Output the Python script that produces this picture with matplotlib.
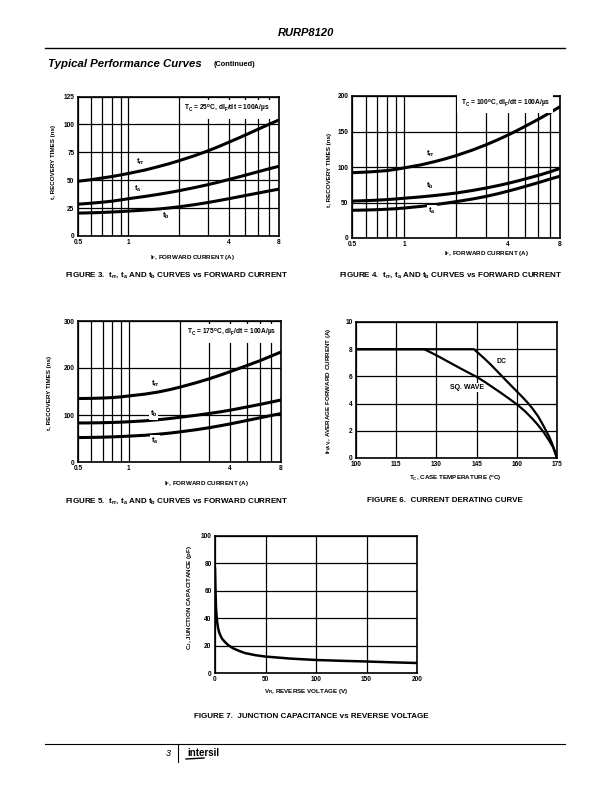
import numpy as np
import matplotlib
matplotlib.use("Agg")
import matplotlib.pyplot as plt
from matplotlib.ticker import FixedLocator, FixedFormatter, NullFormatter

plt.rcParams['font.family'] = ['Liberation Sans', 'DejaVu Sans']
plt.rcParams['font.weight'] = 'bold'
plt.rcParams['mathtext.fontset'] = 'custom'
plt.rcParams['mathtext.rm'] = 'Liberation Sans:bold'
plt.rcParams['mathtext.it'] = 'Liberation Sans:bold'
plt.rcParams['mathtext.bf'] = 'Liberation Sans:bold'
plt.rcParams['mathtext.default'] = 'rm'

W, H = 612, 792

# forward current (A) - common x for figures 3, 4, 5
i_f = [0.5, 0.6, 0.7, 0.8, 0.9, 1, 1.25, 1.5, 1.75, 2, 2.5, 3, 3.5, 4, 4.5, 5, 6, 7, 8]
x_major = [0.5, 1, 4, 8]
x_major_labels = ['0.5', '1', '4', '8']
x_minor = [0.6, 0.7, 0.8, 0.9, 2, 3, 5, 6, 7]

# figure 3, Tc = 25 C
trr_25 = [49, 50.5, 52, 53.3, 54.7, 56, 59, 62, 64.7, 67.3, 72, 76.3, 80.3, 84, 87.3, 90.3, 95.7, 100.2, 104]
ta_25 = [28.5, 29.4, 30.3, 31.2, 32.3, 33.4, 35.4, 37.2, 38.9, 40.5, 43.4, 46, 48.4, 50.6, 52.6, 54.4, 57.6, 60.3, 62.5]
tb_25 = [20.5, 20.8, 21.1, 21.5, 21.9, 22.3, 23.2, 24.1, 25.1, 26.1, 28.1, 30, 31.8, 33.4, 34.9, 36.2, 38.5, 40.4, 42]

# figure 4, Tc = 100 C
trr_100 = [92, 92.8, 93.8, 95, 96.8, 98.7, 103, 107.5, 111.8, 116, 124, 131.5, 138.5, 145, 151.2, 157, 167.3, 176.5, 185]
tb_100 = [52, 52.6, 53.3, 54.1, 55, 56, 57.9, 59.8, 61.6, 63.3, 67, 70.5, 73.8, 77, 80, 83, 88.2, 93.2, 98]
ta_100 = [39, 39.4, 39.9, 40.6, 41.3, 42.2, 44.5, 46.9, 49.1, 51.2, 55, 58.7, 62.4, 66, 69.3, 72.5, 78, 83, 87]

# figure 5, Tc = 175 C
trr_175 = [135, 135.4, 136.1, 137.1, 138.6, 140.5, 144.5, 149, 154, 159, 168.5, 177, 185, 192.3, 199, 205, 215.5, 225.5, 234]
tb_175 = [83, 83.2, 83.6, 84.2, 84.8, 85.6, 87.6, 90, 92.5, 95, 99.3, 103.3, 106.8, 110.3, 113.8, 117, 122.5, 127.5, 132]
ta_175 = [52, 52.3, 52.8, 53.5, 54.2, 55, 56.9, 59.1, 61.5, 64, 68.6, 73, 77.2, 81.1, 84.8, 88.2, 94, 99, 103]

# figure 6, derating
tc_dc = [100, 144, 146, 148, 150, 152, 154.3, 156, 158, 160, 162, 164, 166, 168, 170, 171, 172, 173, 174, 175]
if_dc = [8, 8, 7.65, 7.3, 6.92, 6.52, 6.05, 5.7, 5.3, 4.9, 4.5, 4.08, 3.6, 3.05, 2.35, 1.97, 1.6, 1.15, 0.62, 0]
tc_sq = [100, 125.5, 128, 131, 134, 137, 140, 143, 145, 148, 151, 154, 157, 160, 163, 166, 168, 170, 172, 173.5, 175]
if_sq = [8, 8, 7.75, 7.45, 7.12, 6.8, 6.48, 6.17, 5.97, 5.6, 5.2, 4.8, 4.38, 3.95, 3.45, 2.85, 2.4, 1.9, 1.3, 0.8, 0]

# figure 7, junction capacitance
v_r = [0, 0.5, 1, 1.5, 2, 3, 4, 5, 7, 10, 13, 18, 25, 30, 40, 50, 75, 100, 125, 150, 175, 200]
c_j = [76, 60, 48, 42, 38, 33, 30, 28, 25, 22.5, 20.4, 18, 15.8, 14.5, 13, 12, 10.5, 9.5, 8.9, 8.4, 7.8, 7.3]

fig = plt.figure(figsize=(W / 100, H / 100), dpi=100)


def px_ax(x0, x1, y0, y1):
    return fig.add_axes([x0 / W, 1 - y1 / H, (x1 - x0) / W, (y1 - y0) / H])


def ftext(x, y, s, **kw):
    kw.setdefault('ha', 'center')
    kw.setdefault('va', 'center')
    return fig.text(x / W, 1 - y / H, s, **kw)


def style(ax):
    for s in ax.spines.values():
        s.set_linewidth(1.2)
    ax.tick_params(which='both', length=0, labelsize=4.7, pad=2.5)
    ax.grid(True, which='both', color='black', linewidth=0.9)
    ax.set_axisbelow(True)


def recovery(box, trr, ta, tb, ymax, ystep, note, note_xy, labels):
    ax = px_ax(*box)
    ax.set_xscale('log')
    ax.set_xlim(0.5, 8)
    ax.set_ylim(0, ymax)
    ax.xaxis.set_major_locator(FixedLocator(x_major))
    ax.xaxis.set_major_formatter(FixedFormatter(x_major_labels))
    ax.xaxis.set_minor_locator(FixedLocator(x_minor))
    ax.xaxis.set_minor_formatter(NullFormatter())
    ax.set_yticks(np.arange(0, ymax + 1, ystep))
    style(ax)
    for y in (trr, ta, tb):
        ax.plot(i_f, y, color='black', lw=2.2, solid_capstyle='butt')
    ax.text(note_xy[0], note_xy[1], note, transform=ax.transAxes, ha='right', va='center',
            fontsize=4.8, bbox=dict(facecolor='white', edgecolor='none', pad=2.5), zorder=4)
    for s, (x, y) in zip(['t$_{rr}$', 't$_a$', 't$_b$'], labels):
        ax.text(x, y, s, ha='center', va='center', fontsize=5.5,
                bbox=dict(facecolor='white', edgecolor='none', pad=0.6), zorder=4)
    return ax


recovery((78, 279, 96.5, 236), trr_25, ta_25, tb_25, 125, 25,
         'T$_C$ = 25$^o$C, dI$_F$/dt = 100A/µs', (0.955, 0.91),
         [(1.18, 66.7), (1.14, 42), (1.69, 18)])
ftext(54, 162, 't, RECOVERY TIMES (ns)', rotation=90, fontsize=4.5)
ftext(193, 257, 'I$_F$, FORWARD CURRENT (A)', fontsize=4.5)
ftext(177, 275, 'FIGURE 3.  t$_{rr}$, t$_a$ AND t$_b$ CURVES vs FORWARD CURRENT', fontsize=5.8)

recovery((352, 560, 96, 238), trr_100, ta_100, tb_100, 200, 50,
         'T$_C$ = 100$^o$C, dI$_F$/dt = 100A/µs', (0.952, 0.947),
         [(1.42, 119), (1.45, 38.7), (1.42, 72.7)])
ftext(329, 170, 't, RECOVERY TIMES (ns)', rotation=90, fontsize=4.5)
ftext(487, 253.5, 'I$_F$, FORWARD CURRENT (A)', fontsize=4.5)
ftext(451, 275.5, 'FIGURE 4.  t$_{rr}$, t$_a$ AND t$_b$ CURVES vs FORWARD CURRENT', fontsize=5.8)

recovery((78, 281, 321, 462), trr_175, ta_175, tb_175, 300, 100,
         'T$_C$ = 175$^o$C, dI$_F$/dt = 100A/µs', (0.975, 0.914),
         [(1.43, 166), (1.43, 44), (1.40, 102)])
ftext(50, 393, 't, RECOVERY TIMES (ns)', rotation=90, fontsize=4.5)
ftext(207, 483, 'I$_F$, FORWARD CURRENT (A)', fontsize=4.5)
ftext(177, 501, 'FIGURE 5.  t$_{rr}$, t$_a$ AND t$_b$ CURVES vs FORWARD CURRENT', fontsize=5.8)

# figure 6
ax6 = px_ax(356, 557, 322, 458)
ax6.set_xlim(100, 175)
ax6.set_ylim(0, 10)
ax6.set_xticks([100, 115, 130, 145, 160, 175])
ax6.set_yticks([0, 2, 4, 6, 8, 10])
style(ax6)
ax6.plot(tc_dc, if_dc, color='black', lw=1.6)
ax6.plot(tc_sq, if_sq, color='black', lw=1.6)
ax6.text(154.3, 7.1, 'DC', ha='center', va='center', fontsize=5,
         bbox=dict(facecolor='white', edgecolor='none', pad=0.8))
ax6.text(141.3, 5.2, 'SQ. WAVE', ha='center', va='center', fontsize=5,
         bbox=dict(facecolor='white', edgecolor='none', pad=0.8))
ftext(330, 391, 'I$_{F(AV)}$, AVERAGE FORWARD CURRENT (A)', rotation=90, fontsize=4.5)
ftext(455, 478, 'T$_C$, CASE TEMPERATURE ($^o$C)', fontsize=4.5)
ftext(445, 501, 'FIGURE 6.  CURRENT DERATING CURVE', fontsize=5.8)

# figure 7
ax7 = px_ax(215, 417, 536, 673)
ax7.set_xlim(0, 200)
ax7.set_ylim(0, 100)
ax7.set_xticks([0, 50, 100, 150, 200])
ax7.set_yticks([0, 20, 40, 60, 80, 100])
style(ax7)
ax7.plot(v_r, c_j, color='black', lw=1.8)
ftext(189, 597, 'C$_J$, JUNCTION CAPACITANCE (pF)', rotation=90, fontsize=4.5)
ftext(306, 691, 'V$_R$, REVERSE VOLTAGE (V)', fontsize=4.5)
ftext(311, 716, 'FIGURE 7.  JUNCTION CAPACITANCE vs REVERSE VOLTAGE', fontsize=5.8)

# page header and footer
ftext(306, 33, 'RURP8120', fontsize=8, style='italic')
fig.add_artist(plt.Line2D([45 / W, 565 / W], [1 - 48 / H, 1 - 48 / H], color='black', lw=1))
ftext(48, 64, 'Typical Performance Curves', ha='left', fontsize=8.2, style='italic')
ftext(214, 65, '(Continued)', ha='left', fontsize=5.3)

fig.add_artist(plt.Line2D([45 / W, 565 / W], [1 - 744 / H, 1 - 744 / H], color='black', lw=0.8))
fig.add_artist(plt.Line2D([178 / W, 178 / W], [1 - 744 / H, 1 - 762 / H], color='black', lw=0.8))
ftext(171, 754, '3', ha='right', fontsize=6.5, style='italic', fontweight='normal')
ftext(187, 753, 'intersil', ha='left', fontsize=7)
fig.add_artist(plt.Line2D([186 / W, 204 / W], [1 - 759 / H, 1 - 758 / H], color='black', lw=1))

fig.savefig('out.png', dpi=100)
